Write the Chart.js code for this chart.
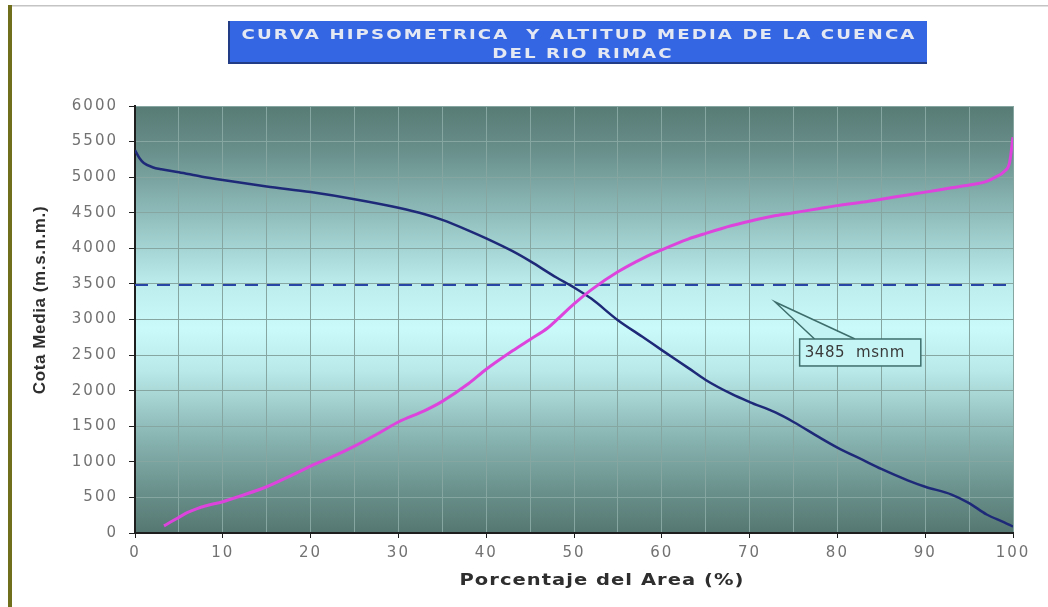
<!DOCTYPE html>
<html>
<head>
<meta charset="utf-8">
<title>Curva hipsométrica - Río Rímac</title>
<script src="https://cdn.jsdelivr.net/npm/chart.js@4.4.1/dist/chart.umd.min.js"></script>
<style>
  html, body { margin: 0; padding: 0; background: #ffffff; }
  #wrap { position: relative; width: 1048px; height: 607px; }
</style>
</head>
<body>
<div id="wrap"><canvas id="grafico" width="1048" height="607"></canvas></div>
<script>
// Textos
const titulo = ['CURVA HIPSOMETRICA  Y ALTITUD MEDIA DE LA CUENCA', 'DEL RIO RIMAC'];
const tituloEjeX = 'Porcentaje del Area (%)';
const tituloEjeY = 'Cota Media (m.s.n.m.)';

// Curva hipsométrica: % del área que queda por encima de cada cota
const areaSobre = [0, 0.5, 1, 2, 3, 5, 7.5, 10, 15, 20, 25, 30, 33, 35, 38, 40, 43, 45, 48, 50,
  52, 55, 58, 60, 63, 65, 68, 70, 73, 75, 78, 80, 83, 85, 88, 90, 93, 95, 97, 99, 100];
const cotaSobre = [5380, 5270, 5200, 5140, 5110, 5070, 5010, 4960, 4870, 4790, 4690, 4570, 4480, 4400, 4250, 4140, 3960, 3820, 3590, 3450,
  3290, 2990, 2740, 2570, 2320, 2150, 1950, 1840, 1690, 1560, 1340, 1200, 1020, 900, 740, 650, 540, 420, 260, 150, 90];

// Curva complementaria: % del área que queda por debajo de cada cota
const areaBajo = [3.3, 4, 5, 6, 7, 8, 10, 12, 15, 18, 20, 23, 25, 28, 30, 33, 35, 38, 40, 43, 45, 47, 48, 50,
  52, 55, 58, 60, 63, 65, 68, 70, 73, 75, 78, 80, 83, 85, 88, 90, 93, 95, 97, 98, 99, 99.6, 100];
const cotaBajo = [100, 150, 220, 290, 340, 380, 440, 520, 650, 820, 940, 1100, 1220, 1420, 1560, 1720, 1850, 2100, 2300, 2560, 2720, 2880, 2990, 3220,
  3420, 3670, 3870, 3980, 4130, 4210, 4320, 4380, 4460, 4500, 4560, 4600, 4650, 4690, 4750, 4790, 4850, 4890, 4940, 5000, 5080, 5200, 5560];

// Altitud media de la cuenca
const altitudMedia = 3485;
const etiquetaMedia = '3485  msnm';
const rangoMedia = [0, 100];

// Escalas
const ejeX = { min: 0, max: 100, paso: 5, pasoEtiqueta: 10 };
const ejeY = { min: 0, max: 6000, paso: 500 };

// Recuadro de la etiqueta (en unidades de los ejes)
const recuadro = { x0: 75.7, x1: 89.5, y0: 2347, y1: 2726 };
const puntaFlecha = { x: 72.9, y: 3246 };
const baseFlecha = [77.4, 82.0];

const puntos = (xs, ys) => xs.map((x, i) => ({ x: x, y: ys[i] }));

const fuenteNum = '"DejaVu Sans", Verdana, sans-serif';

// Texto ensanchado horizontalmente, centrado en (cx, cy)
function textoAncho(ctx, texto, cx, cy, escala) {
  ctx.save();
  ctx.translate(cx, cy);
  ctx.scale(escala, 1);
  ctx.textAlign = 'center';
  ctx.textBaseline = 'middle';
  ctx.fillText(texto, 0, 0);
  ctx.restore();
}

// Fondo de la página, marco y recuadro del título
const decoracion = {
  id: 'decoracion',
  beforeDraw(chart) {
    const { ctx, chartArea: a } = chart;
    ctx.save();
    // marco
    ctx.fillStyle = '#c4c4c4';
    ctx.fillRect(10, 5, 1038, 1.5);
    ctx.fillStyle = '#6f6f1c';
    ctx.fillRect(8, 5, 4, 602);
    // degradado del área de trazado
    const g = ctx.createLinearGradient(0, a.top, 0, a.bottom);
    g.addColorStop(0.00, '#577a74');
    g.addColorStop(0.12, '#6c938f');
    g.addColorStop(0.28, '#96c5c4');
    g.addColorStop(0.42, '#bdeded');
    g.addColorStop(0.52, '#cbfafa');
    g.addColorStop(0.62, '#b9e9e9');
    g.addColorStop(0.78, '#87b3b0');
    g.addColorStop(0.90, '#6a918c');
    g.addColorStop(1.00, '#557771');
    ctx.fillStyle = g;
    ctx.fillRect(a.left, a.top, a.right - a.left, a.bottom - a.top);
    ctx.restore();
    ctx.letterSpacing = '2px';
  },
  afterDraw(chart) {
    const { ctx } = chart;
    ctx.save();
    ctx.letterSpacing = '0px';
    // recuadro del título
    ctx.fillStyle = '#3466e4';
    ctx.fillRect(229, 21, 698, 42);
    ctx.strokeStyle = '#223c86';
    ctx.lineWidth = 2;
    ctx.beginPath();
    ctx.moveTo(229, 21); ctx.lineTo(229, 63); ctx.lineTo(927, 63);
    ctx.stroke();
    ctx.fillStyle = '#e4e8f2';
    ctx.font = 'bold 14px "DejaVu Sans", Verdana, sans-serif';
    ctx.letterSpacing = '1.6px';
    textoAncho(ctx, titulo[0], 579, 35, 1.3);
    textoAncho(ctx, titulo[1], 583, 54, 1.3);

    // título del eje X
    ctx.fillStyle = '#2e2e2e';
    ctx.font = 'bold 15px "DejaVu Sans", Verdana, sans-serif';
    ctx.letterSpacing = '0.8px';
    textoAncho(ctx, tituloEjeX, 602, 581, 1.3);

    // título del eje Y
    ctx.save();
    ctx.translate(40, 300);
    ctx.rotate(-Math.PI / 2);
    ctx.font = 'bold 17px "Liberation Sans", Arial, sans-serif';
    ctx.letterSpacing = '0.6px';
    ctx.textAlign = 'center';
    ctx.textBaseline = 'middle';
    ctx.fillText(tituloEjeY, 0, 0);
    ctx.restore();
    ctx.restore();
  }
};

// Etiqueta de la altitud media con su flecha
const etiqueta = {
  id: 'etiqueta',
  afterDatasetsDraw(chart) {
    const { ctx, scales: { x, y } } = chart;
    const bx0 = x.getPixelForValue(recuadro.x0), bx1 = x.getPixelForValue(recuadro.x1);
    const by0 = y.getPixelForValue(recuadro.y1), by1 = y.getPixelForValue(recuadro.y0);
    const tx = x.getPixelForValue(puntaFlecha.x), ty = y.getPixelForValue(puntaFlecha.y);
    const f0 = x.getPixelForValue(baseFlecha[0]), f1 = x.getPixelForValue(baseFlecha[1]);
    ctx.save();
    ctx.letterSpacing = '0px';
    // flecha
    ctx.fillStyle = '#c3f3f3';
    ctx.strokeStyle = '#3e6e6c';
    ctx.lineWidth = 1.5;
    ctx.beginPath();
    ctx.moveTo(f0, by0 + 1);
    ctx.lineTo(tx, ty);
    ctx.lineTo(f1, by0 + 1);
    ctx.closePath();
    ctx.fill();
    ctx.beginPath();
    ctx.moveTo(f0, by0);
    ctx.lineTo(tx, ty);
    ctx.lineTo(f1, by0);
    ctx.stroke();
    // recuadro
    ctx.fillStyle = '#c6f5f5';
    ctx.fillRect(bx0, by0, bx1 - bx0, by1 - by0);
    ctx.strokeRect(bx0, by0, bx1 - bx0, by1 - by0);
    ctx.fillStyle = '#3a3a3a';
    ctx.font = '15px "DejaVu Sans", Verdana, sans-serif';
    ctx.letterSpacing = '0.6px';
    ctx.textAlign = 'left';
    ctx.textBaseline = 'middle';
    ctx.fillText(etiquetaMedia, bx0 + 5, (by0 + by1) / 2 + 1);
    ctx.restore();
  }
};

new Chart(document.getElementById('grafico'), {
  type: 'line',
  data: {
    datasets: [
      {
        label: 'Altitud media',
        data: puntos(rangoMedia, [altitudMedia, altitudMedia]),
        borderColor: '#2846a6',
        borderWidth: 2,
        borderDash: [13, 9],
        pointRadius: 0,
        order: 3
      },
      {
        label: 'Área por encima',
        data: puntos(areaSobre, cotaSobre),
        borderColor: '#1e2a78',
        borderWidth: 2.5,
        pointRadius: 0,
        cubicInterpolationMode: 'monotone',
        order: 2
      },
      {
        label: 'Área por debajo',
        data: puntos(areaBajo, cotaBajo),
        borderColor: '#dc44dc',
        borderWidth: 3,
        pointRadius: 0,
        cubicInterpolationMode: 'monotone',
        order: 1
      }
    ]
  },
  options: {
    responsive: false,
    animation: false,
    devicePixelRatio: 1,
    layout: { padding: { top: 106, right: 35, left: 0, bottom: 0 } },
    plugins: {
      legend: { display: false },
      tooltip: { enabled: false },
      title: { display: false }
    },
    scales: {
      x: {
        type: 'linear',
        min: ejeX.min,
        max: ejeX.max,
        afterFit(s) { s.height = 74; },
        ticks: {
          stepSize: ejeX.paso,
          autoSkip: false,
          maxRotation: 0,
          minRotation: 0,
          padding: 6,
          color: '#727272',
          font: { family: fuenteNum, size: 15 },
          callback: v => (v % ejeX.pasoEtiqueta === 0 ? String(v) : '')
        },
        grid: {
          color: '#86a6a2',
          lineWidth: 1,
          tickLength: 5,
          tickColor: c => (c.tick && c.tick.value % ejeX.pasoEtiqueta === 0 ? '#1e1e1e' : 'rgba(0,0,0,0)')
        },
        border: { color: '#1e1e1e', width: 2 }
      },
      y: {
        type: 'linear',
        min: ejeY.min,
        max: ejeY.max,
        afterFit(s) { s.width = 135; },
        ticks: {
          stepSize: ejeY.paso,
          padding: 11,
          color: '#727272',
          font: { family: fuenteNum, size: 15 },
          callback: v => String(v)
        },
        grid: {
          color: '#86a6a2',
          lineWidth: 1,
          tickLength: 6,
          tickColor: '#1e1e1e'
        },
        border: { color: '#1e1e1e', width: 2 }
      }
    }
  },
  plugins: [decoracion, etiqueta]
});
</script>
</body>
</html>
